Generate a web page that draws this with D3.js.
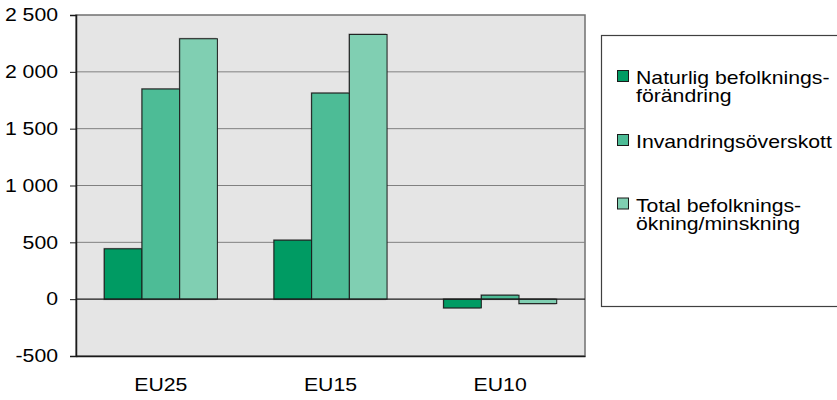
<!DOCTYPE html>
<html>
<head>
<meta charset="utf-8">
<script src="https://cdn.jsdelivr.net/npm/d3@7"></script>
<style>
  body { margin: 0; background: #fff; }
  svg { font-family: "Liberation Sans", Arial, sans-serif; }
</style>
</head>
<body>
<div id="chart"></div>
<script>
// Chart data
const categories = ['EU25', 'EU15', 'EU10']
const naturlig = [443, 519, -77]
const invandring = [1849, 1813, 35]
const total = [2291, 2329, -39]
const seriesNames = [
  ['Naturlig befolknings-', 'förändring'],
  ['Invandringsöverskott'],
  ['Total befolknings-', 'ökning/minskning']
]
const yTicks = [-500, 0, 500, 1000, 1500, 2000, 2500]

const colors = ['#009b63', '#4dbc96', '#80cfb2']
const seriesValues = [naturlig, invandring, total]

var width = 837
var height = 400
var plot = { left: 76, right: 585, top: 15, bottom: 356 }
// the original text is a little wider than it is tall
var fontSize = '18px'
var stretch = 1.18

const svg = d3.select('#chart')
  .append('svg')
  .attr('width', width)
  .attr('height', height)

const x = d3.scaleBand()
  .domain(categories)
  .range([plot.left, plot.right])
  .paddingInner(1 / 3)
  .paddingOuter(1 / 6)

const xSub = d3.scaleBand()
  .domain([0, 1, 2])
  .range([0, x.bandwidth()])

const y = d3.scaleLinear()
  .domain([-500, 2500])
  .range([plot.bottom, plot.top])

// plot background
svg.append('rect')
  .attr('x', plot.left)
  .attr('y', plot.top)
  .attr('width', plot.right - plot.left)
  .attr('height', plot.bottom - plot.top)
  .attr('fill', '#e5e5e5')
  .attr('stroke', '#707070')
  .attr('stroke-width', 1.5)

// gridlines
svg.append('g')
  .selectAll('line')
  .data(yTicks.filter(d => d !== -500 && d !== 0 && d !== 2500))
  .enter()
  .append('line')
  .attr('x1', plot.left)
  .attr('x2', plot.right)
  .attr('y1', d => y(d))
  .attr('y2', d => y(d))
  .attr('stroke', '#808080')
  .attr('stroke-width', 1)

// bars
const groups = svg.append('g')
  .selectAll('g')
  .data(categories)
  .enter()
  .append('g')
  .attr('transform', d => `translate(${x(d)},0)`)

const barData = (c, i) => seriesValues.map((vals, s) => ({ s: s, v: vals[i] }))

// shadow
groups.selectAll('rect.shadow')
  .data(barData)
  .enter()
  .append('rect')
  .attr('class', 'shadow')
  .attr('x', d => xSub(d.s) - 1)
  .attr('y', d => Math.min(y(d.v), y(0)) - 1)
  .attr('width', xSub.bandwidth())
  .attr('height', d => Math.abs(y(d.v) - y(0)) + 2)
  .attr('fill', '#000')
  .attr('opacity', 0.25)

groups.selectAll('rect.bar')
  .data(barData)
  .enter()
  .append('rect')
  .attr('class', 'bar')
  .attr('x', d => xSub(d.s))
  .attr('y', d => Math.min(y(d.v), y(0)))
  .attr('width', xSub.bandwidth())
  .attr('height', d => Math.abs(y(d.v) - y(0)))
  .attr('fill', d => colors[d.s])
  .attr('stroke', '#1a1a1a')
  .attr('stroke-width', 1)

// zero line
svg.append('line')
  .attr('x1', plot.left)
  .attr('x2', plot.right)
  .attr('y1', y(0))
  .attr('y2', y(0))
  .attr('stroke', '#1a1a1a')
  .attr('stroke-width', 1.2)

// y axis
const yAxis = d3.axisLeft(y)
  .tickValues(yTicks)
  .tickSize(6)
  .tickPadding(11)
  .tickFormat(d => d3.format(',')(d).replace(/,/g, ' ').replace('−', '-'))

const yg = svg.append('g')
  .attr('transform', `translate(${plot.left},0)`)
  .call(yAxis)
yg.attr('font-family', null).attr('font-size', null)
yg.select('.domain').attr('stroke', '#1a1a1a').attr('stroke-width', 1.5)
yg.selectAll('.tick line').attr('stroke', '#1a1a1a')
yg.selectAll('.tick text')
  .attr('font-size', fontSize)
  .attr('fill', '#000')
  .attr('x', -18 / stretch)
  .attr('transform', `scale(${stretch},1)`)

// x axis
const xAxis = d3.axisBottom(x).tickSize(0).tickPadding(22)
const xg = svg.append('g')
  .attr('transform', `translate(0,${plot.bottom})`)
  .call(xAxis)
xg.attr('font-family', null).attr('font-size', null)
xg.select('.domain').attr('stroke', '#1a1a1a').attr('stroke-width', 1.5)
xg.selectAll('.tick text')
  .attr('font-size', fontSize)
  .attr('fill', '#000')
  .attr('transform', `scale(${stretch},1)`)

// legend
const legend = svg.append('g').attr('id', 'legend')
legend.append('rect')
  .attr('x', 601.5)
  .attr('y', 35.5)
  .attr('width', 250)
  .attr('height', 271)
  .attr('fill', '#fff')
  .attr('stroke', '#404040')
  .attr('stroke-width', 1.2)

const legendBaselines = [84, 148, 211.5]

const items = legend.selectAll('g.item')
  .data(seriesNames)
  .enter()
  .append('g')
  .attr('class', 'item')

items.append('rect')
  .attr('x', 617.5)
  .attr('y', (d, i) => legendBaselines[i] - 13.5)
  .attr('width', 11)
  .attr('height', 11)
  .attr('fill', (d, i) => colors[i])
  .attr('stroke', '#1a1a1a')
  .attr('stroke-width', 1)

items.append('g')
  .attr('transform', (d, i) => `translate(636,${legendBaselines[i]}) scale(${stretch},1)`)
  .append('text')
  .attr('font-size', fontSize)
  .attr('fill', '#000')
  .selectAll('tspan')
  .data(d => d)
  .enter()
  .append('tspan')
  .attr('x', 0)
  .attr('dy', (d, i) => i === 0 ? 0 : 18.5)
  .text(d => d)
</script>
</body>
</html>
